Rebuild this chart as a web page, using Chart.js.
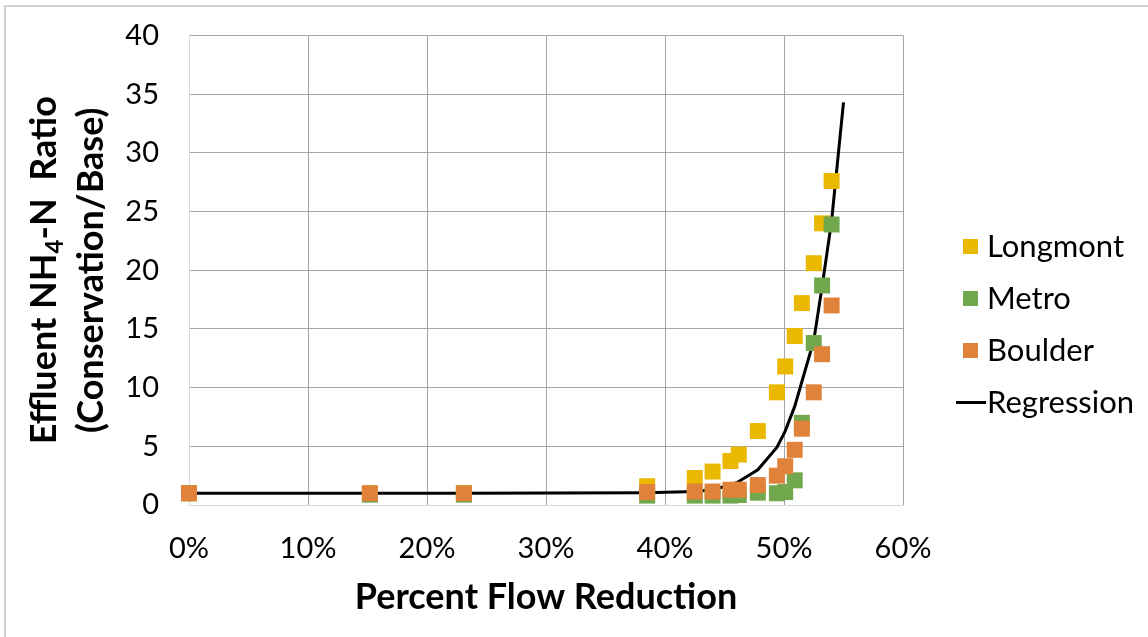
<!DOCTYPE html>
<html>
<head>
<meta charset="utf-8">
<script src="https://cdn.jsdelivr.net/npm/chart.js@4.4.1/dist/chart.umd.min.js"></script>
<style>
  html, body { margin: 0; padding: 0; background: #ffffff; }
  #wrap { width: 1148px; height: 637px; position: relative; }
</style>
</head>
<body>
<div id="wrap"><canvas id="chart" width="1148" height="637"></canvas></div>
<script>
// Percent flow reduction (x) shared by the three plant series
const flowReduction = [0, 15.2, 23.1, 38.5, 42.5, 44.0, 45.5, 46.2, 47.8, 49.4, 50.1, 50.9, 51.5, 52.5, 53.2, 54.0];
// Effluent NH4-N ratio (conservation / base) per plant
const longmont = [1.0, 1.0, 1.0, 1.6, 2.3, 2.85, 3.75, 4.3, 6.3, 9.6, 11.8, 14.4, 17.2, 20.6, 24.0, 27.6];
const metro    = [1.0, 0.88, 0.88, 0.8, 0.8, 0.8, 0.8, 0.85, 1.05, 1.0, 1.1, 2.1, 7.0, 13.8, 18.7, 23.9];
const boulder  = [1.0, 1.0, 1.0, 1.1, 1.15, 1.15, 1.3, 1.3, 1.7, 2.5, 3.3, 4.7, 6.5, 9.6, 12.85, 17.0];
// Regression curve
const regressionFlow  = [0, 15.2, 23.1, 38.5, 42.5, 44.0, 45.5, 46.2, 47.8, 49.4, 50.1, 50.9, 51.5, 52.5, 53.2, 54.0, 55.0];
const regressionRatio = [1.0, 1.0, 1.0, 1.05, 1.15, 1.3, 1.7, 2.0, 3.0, 4.9, 6.3, 8.4, 10.5, 14.0, 18.6, 24.2, 34.3];

const seriesNames = ['Longmont', 'Metro', 'Boulder', 'Regression'];
const seriesColors = ['#EBB800', '#71A84D', '#E0823A', '#000000'];
const xTitle = 'Percent Flow Reduction';
const yTitleLine1 = ['Effluent NH', '4', '-N  Ratio'];
const yTitleLine2 = '(Conservation/Base)';

const FONT = 'Lato';

function toPoints(xs, ys) {
  return xs.map((x, i) => ({ x: x, y: ys[i] }));
}

// small canvases used as legend symbols
function squareIcon(color) {
  const c = document.createElement('canvas');
  c.width = 15; c.height = 15;
  const g = c.getContext('2d');
  g.fillStyle = color;
  g.fillRect(0, 0, 15, 15);
  return c;
}
function lineIcon(color) {
  const c = document.createElement('canvas');
  c.width = 30; c.height = 3;
  const g = c.getContext('2d');
  g.fillStyle = color;
  g.fillRect(0, 0, 30, 3);
  return c;
}
const legendIcons = [squareIcon(seriesColors[0]), squareIcon(seriesColors[1]), squareIcon(seriesColors[2]), lineIcon(seriesColors[3])];

function markerSeries(i, values, order) {
  return {
    label: seriesNames[i],
    data: toPoints(flowReduction, values),
    pointStyle: 'rect',
    pointRadius: 11.3,
    pointHoverRadius: 11.3,
    pointBorderWidth: 0,
    backgroundColor: seriesColors[i],
    borderColor: seriesColors[i],
    showLine: false,
    order: order,
    clip: false
  };
}

// frame lines along the top and left edges of the canvas
const frame = {
  id: 'frame',
  beforeDraw(chart) {
    const ctx = chart.ctx;
    ctx.save();
    ctx.fillStyle = '#ffffff';
    ctx.fillRect(0, 0, chart.width, chart.height);
    ctx.strokeStyle = '#d0d0d0';
    ctx.lineWidth = 2;
    ctx.beginPath();
    ctx.moveTo(5, chart.height);
    ctx.lineTo(5, 6);
    ctx.lineTo(chart.width, 6);
    ctx.stroke();
    ctx.restore();
  }
};

// vertical axis title with a subscript
const yAxisTitle = {
  id: 'yAxisTitle',
  afterDraw(chart) {
    const ctx = chart.ctx;
    const big = 'bold 36px ' + FONT;
    const small = 'bold 24px ' + FONT;
    const cy = (chart.chartArea.top + chart.chartArea.bottom) / 2;
    ctx.save();
    ctx.fillStyle = '#000000';
    ctx.textBaseline = 'alphabetic';
    ctx.textAlign = 'left';

    // first line
    ctx.save();
    ctx.translate(56, cy);
    ctx.rotate(-Math.PI / 2);
    ctx.font = big;
    const w0 = ctx.measureText(yTitleLine1[0]).width;
    const w2 = ctx.measureText(yTitleLine1[2]).width;
    ctx.font = small;
    const w1 = ctx.measureText(yTitleLine1[1]).width;
    let x = -(w0 + w1 + w2) / 2;
    ctx.font = big;
    ctx.fillText(yTitleLine1[0], x, 0);
    x += w0;
    ctx.font = small;
    ctx.fillText(yTitleLine1[1], x, 7);
    x += w1;
    ctx.font = big;
    ctx.fillText(yTitleLine1[2], x, 0);
    ctx.restore();

    // second line
    ctx.save();
    ctx.translate(103, cy);
    ctx.rotate(-Math.PI / 2);
    ctx.font = big;
    ctx.textAlign = 'center';
    ctx.fillText(yTitleLine2, 0, 0);
    ctx.restore();

    ctx.restore();
  }
};

// place the legend block to the right of the plot
const legendPlacement = {
  id: 'legendPlacement',
  afterLayout(chart) {
    const lg = chart.legend;
    if (!lg) return;
    lg.left = 948.5; lg.right = 1148; lg.width = 1148 - 948.5;
    lg.top = 210; lg.bottom = 637; lg.height = 637 - 210;
  }
};

function gridColor(ctx) {
  return ctx.tick && ctx.tick.value === 0 ? '#d9d9d9' : '#a6a6a6';
}

function build() {
  new Chart(document.getElementById('chart'), {
    type: 'scatter',
    data: {
      datasets: [
        markerSeries(0, longmont, 3),
        markerSeries(1, metro, 2),
        markerSeries(2, boulder, 1),
        {
          label: seriesNames[3],
          data: toPoints(regressionFlow, regressionRatio),
          showLine: true,
          borderColor: seriesColors[3],
          backgroundColor: seriesColors[3],
          borderWidth: 3,
          pointRadius: 0,
          pointHoverRadius: 0,
          tension: 0,
          fill: false,
          order: 4,
          clip: false
        }
      ]
    },
    options: {
      responsive: false,
      animation: false,
      devicePixelRatio: 1,
      layout: { padding: { left: 0, right: 245, top: 35.5, bottom: 0 } },
      plugins: {
        tooltip: { enabled: false },
        legend: {
          display: true,
          position: 'chartArea',
          align: 'start',
          labels: {
            usePointStyle: true,
            pointStyleWidth: 2,
            boxHeight: 15,
            padding: 21,
            color: '#000000',
            font: { family: FONT, size: 31 },
            sort: (a, b) => a.datasetIndex - b.datasetIndex,
            generateLabels(chart) {
              const items = Chart.defaults.plugins.legend.labels.generateLabels(chart);
              items.forEach(it => {
                it.pointStyle = legendIcons[it.datasetIndex];
                it.lineWidth = 0;
              });
              return items;
            }
          }
        }
      },
      scales: {
        x: {
          type: 'linear',
          position: 'bottom',
          min: 0,
          max: 60,
          ticks: {
            stepSize: 10,
            callback: v => v + '%',
            color: '#000000',
            font: { family: FONT, size: 29 },
            padding: 26,
            maxRotation: 0
          },
          grid: { color: gridColor, lineWidth: 1, drawTicks: false },
          border: { color: '#d9d9d9', width: 1 },
          title: {
            display: true,
            text: xTitle,
            color: '#000000',
            font: { family: FONT, size: 36, weight: 'bold' },
            padding: { top: 0, bottom: 18 }
          },
          afterFit(scale) { scale.height = 132; }
        },
        y: {
          type: 'linear',
          min: 0,
          max: 40,
          ticks: {
            stepSize: 5,
            color: '#000000',
            font: { family: FONT, size: 29 },
            padding: 30
          },
          grid: { color: gridColor, lineWidth: 1, drawTicks: false },
          border: { color: '#d9d9d9', width: 1 },
          afterFit(scale) {
            scale.width = 189;
            scale.paddingTop = 0;
            scale.paddingBottom = 0;
          }
        }
      }
    },
    plugins: [frame, yAxisTitle, legendPlacement]
  });
}

const fontLoads = [
  '29px ' + FONT, '31px ' + FONT, 'bold 36px ' + FONT, 'bold 24px ' + FONT
].map(f => document.fonts.load(f).catch(() => null));
Promise.all(fontLoads).then(build, build);
</script>
</body>
</html>
